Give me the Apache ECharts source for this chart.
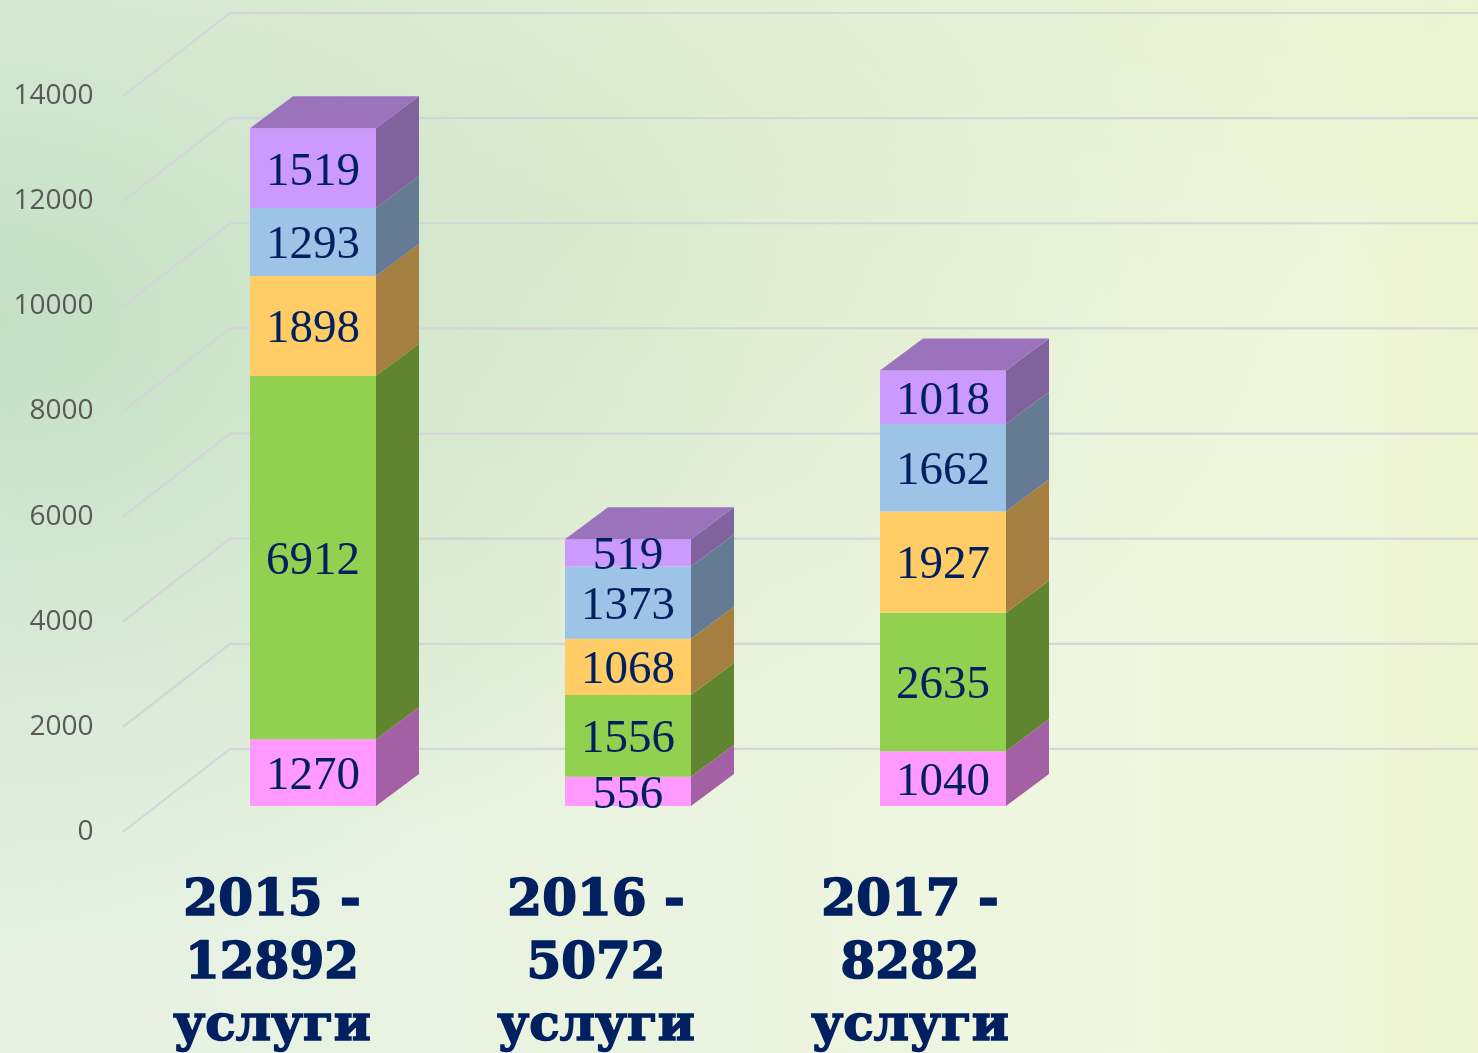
<!DOCTYPE html>
<html>
<head>
<meta charset="utf-8">
<script src="https://cdn.jsdelivr.net/npm/echarts@6/dist/echarts.min.js"></script>
<style>
html,body{margin:0;padding:0;width:1478px;height:1053px;overflow:hidden;}
body{background:
  radial-gradient(ellipse 780px 640px at 0px 320px, rgba(192,222,194,.9), rgba(200,226,200,.5) 50%, rgba(204,228,204,0) 100%),
  radial-gradient(ellipse 800px 620px at 560px 220px, rgba(218,234,204,.85), rgba(222,236,208,.5) 55%, rgba(226,238,212,0) 100%),
  radial-gradient(ellipse 700px 300px at 1200px 0px, rgba(232,241,208,.7), rgba(232,241,208,0) 100%),
  linear-gradient(90deg,#e6f1e4 0%,#e9f3e0 35%,#eff6e0 70%,#f0f6dc 90%,#edf4cf 100%);}
#c{width:1478px;height:1053px;}
</style>
</head>
<body>
<div id="c"></div>
<script>
var categories = ['2015', '2016', '2017', ''];
var totals = [12892, 5072, 8282];
var pinkValues = [1270, 556, 1040];
var greenValues = [6912, 1556, 2635];
var orangeValues = [1898, 1068, 1927];
var blueValues = [1293, 1373, 1662];
var violetValues = [1519, 519, 1018];
var yTicks = [0, 2000, 4000, 6000, 8000, 10000, 12000, 14000];

var NAVY = '#002060';
var layers = [
  {name: 'pink', values: pinkValues, front: '#FF99FF', side: '#A460A4'},
  {name: 'green', values: greenValues, front: '#92D050', side: '#5F8530'},
  {name: 'orange', values: orangeValues, front: '#FFCC66', side: '#A57F3F'},
  {name: 'blue', values: blueValues, front: '#9DC3E6', side: '#647B93'},
  {name: 'violet', values: violetValues, front: '#CC99FF', side: '#80629F', top: '#9B72BC'}
];
// pixel constants of the oblique projection
var FRONT_LIFT = 26, HALF = 63, DX = 43, DY = 32;
var WALL_LEFT = -190, WALL_BACK = -83, WALL_RISE = 83;
var labelShift = [82, 64, 66];

function poly(points, fill) {
  return {type: 'polygon', shape: {points: points}, style: {fill: fill}};
}

var series = [{
  type: 'custom', name: 'walls', silent: true, z: 1,
  data: yTicks.map(function (t) { return [0, t]; }),
  renderItem: function (params, api) {
    var p = api.coord([0, api.value(1)]);
    var x0 = p[0] + WALL_LEFT, xb = p[0] + WALL_BACK, yb = p[1] - WALL_RISE;
    return {
      type: 'polyline',
      shape: {points: [[x0, p[1]], [xb, yb], [api.getWidth(), yb]]},
      style: {stroke: 'rgba(212,212,216,.95)', lineWidth: 2.2, fill: null}
    };
  }
}];

layers.forEach(function (layer, li) {
  var data = layer.values.map(function (v, i) {
    var base = 0;
    for (var k = 0; k < li; k++) base += layers[k].values[i];
    return [i, base, base + v, v];
  });
  series.push({
    type: 'custom', name: layer.name, silent: true, z: 2,
    data: data,
    renderItem: function (params, api) {
      var lo = api.coord([api.value(0), api.value(1)]);
      var hi = api.coord([api.value(0), api.value(2)]);
      var l = lo[0] - HALF, r = lo[0] + HALF;
      var yl = lo[1] - FRONT_LIFT, yh = hi[1] - FRONT_LIFT;
      var children = [
        poly([[r, yl], [r + DX, yl - DY], [r + DX, yh - DY], [r, yh]], layer.side),
        poly([[l, yl], [r, yl], [r, yh], [l, yh]], layer.front)
      ];
      if (layer.top) {
        children.push(poly([[l, yh], [r, yh], [r + DX, yh - DY], [l + DX, yh - DY]], layer.top));
      }
      children.push({
        type: 'text', z2: 10,
        style: {
          text: String(api.value(3)), x: lo[0], y: (yl + yh) / 2 + 4,
          fill: NAVY, font: '47px "Liberation Serif"', align: 'center', verticalAlign: 'middle'
        }
      });
      return {type: 'group', children: children};
    }
  });
});

var rich = {};
labelShift.forEach(function (s, i) {
  rich['c' + i] = {
    fontFamily: '"DejaVu Serif"', fontWeight: 'bold', fontSize: 50, color: NAVY,
    textBorderColor: NAVY, textBorderWidth: 1.6,
    lineHeight: 62.5, padding: [0, s, 0, 0], align: 'center'
  };
});

var chart = echarts.init(document.getElementById('c'), null, {renderer: 'canvas'});
chart.setOption({
  animation: false,
  backgroundColor: 'transparent',
  grid: {left: 155.5, top: 96, width: 1260, height: 736},
  xAxis: {
    type: 'category', data: categories,
    axisLine: {show: false}, axisTick: {show: false}, splitLine: {show: false},
    axisLabel: {
      show: true, interval: 0, margin: 39, verticalAlign: 'top', align: 'center',
      hideOverlap: false,
      formatter: function (v, i) {
        if (i >= totals.length) return '';
        var t = '{c' + i + '|';
        return t + v + ' -}\n' + t + totals[i] + '}\n' + t + 'услуги}';
      },
      rich: rich
    }
  },
  yAxis: {
    type: 'value', min: 0, max: 14000, interval: 2000,
    axisLine: {show: false}, axisTick: {show: false}, splitLine: {show: false},
    axisLabel: {
      margin: 62, color: '#595959', fontFamily: '"Open Sans"', fontSize: 28,
      padding: [2, 0, 0, 0],
      formatter: function (v) { return String(v); }
    }
  },
  series: series
});
</script>
</body>
</html>
